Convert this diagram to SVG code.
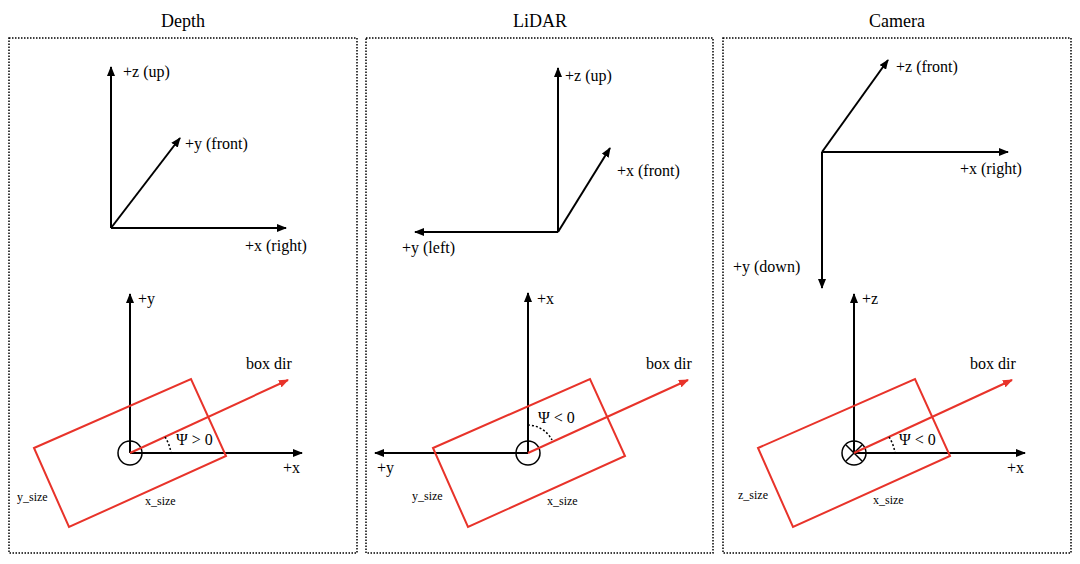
<svg xmlns="http://www.w3.org/2000/svg" width="1080" height="564" viewBox="0 0 1080 564">
<style>
text{font-family:"Liberation Serif","Times New Roman",serif;fill:#000}
.t{font-size:18px}.l{font-size:16px}.s{font-size:12px}
.ax{stroke:#000;stroke-width:2;fill:none;marker-end:url(#ab)}
.rd{stroke:#e8332a;stroke-width:2;fill:none}
.dir{stroke:#e8332a;stroke-width:2;marker-end:url(#ar)}
.fr{fill:none;stroke:#000;stroke-width:1.5;stroke-dasharray:1.5 1.5}
.dt{fill:none;stroke:#000;stroke-width:1.5;stroke-dasharray:2 2}
</style>
<defs>
<marker id="ab" markerWidth="10" markerHeight="8" refX="9" refY="4" orient="auto" markerUnits="userSpaceOnUse"><path d="M0,0L10,4L0,8z" fill="#000"/></marker>
<marker id="ar" markerWidth="10" markerHeight="8" refX="9" refY="4" orient="auto" markerUnits="userSpaceOnUse"><path d="M0,0L10,4L0,8z" fill="#e8332a"/></marker>
</defs>
<rect width="1080" height="564" fill="#fff"/>
<g id="depth">
<text class="t" x="183" y="27" text-anchor="middle">Depth</text>
<rect class="fr" x="9" y="38" width="348" height="515"/>
<line class="ax" x1="111" y1="228" x2="111" y2="67"/>
<line class="ax" x1="111" y1="228" x2="180" y2="138"/>
<line class="ax" x1="111" y1="228" x2="286" y2="228"/>
<text class="l" x="123" y="77">+z (up)</text>
<text class="l" x="185" y="149">+y (front)</text>
<text class="l" x="245" y="251">+x (right)</text>
<line class="ax" x1="130" y1="453" x2="130" y2="294"/>
<line class="ax" x1="130" y1="453" x2="302" y2="453"/>
<text class="l" x="138" y="304">+y</text>
<text class="l" x="283" y="473">+x</text>
<circle cx="130" cy="453" r="12" fill="none" stroke="#000" stroke-width="1.5"/>
<polygon class="rd" points="34,448 191,379 226,456 69,527"/>
<line class="dir" x1="130" y1="453" x2="288" y2="380"/>
<path class="dt" d="M165,437 A40,40 0 0 1 171,453"/>
<text class="l" x="176" y="445">Ψ &gt; 0</text>
<text class="l" x="246" y="369">box dir</text>
<text class="s" x="17" y="501">y_size</text>
<text class="s" x="145" y="505">x_size</text>
</g>
<g id="lidar">
<text class="t" x="540" y="27" text-anchor="middle">LiDAR</text>
<rect class="fr" x="366" y="38" width="347" height="515"/>
<line class="ax" x1="558" y1="232" x2="558" y2="68"/>
<line class="ax" x1="558" y1="232" x2="610" y2="148"/>
<line class="ax" x1="558" y1="232" x2="415" y2="232"/>
<text class="l" x="565" y="81">+z (up)</text>
<text class="l" x="617" y="176">+x (front)</text>
<text class="l" x="402" y="253">+y (left)</text>
<line class="ax" x1="528" y1="453" x2="528" y2="293"/>
<line class="ax" x1="528" y1="453" x2="375" y2="453"/>
<text class="l" x="537" y="304">+x</text>
<text class="l" x="377" y="473">+y</text>
<circle cx="528" cy="453" r="12" fill="none" stroke="#000" stroke-width="1.5"/>
<polygon class="rd" points="433,448 590,379 625,456 468,527"/>
<line class="dir" x1="528" y1="453" x2="688" y2="380"/>
<path class="dt" d="M528,425 A28,28 0 0 1 552,440"/>
<text class="l" x="538" y="423">Ψ &lt; 0</text>
<text class="l" x="646" y="369">box dir</text>
<text class="s" x="412" y="500">y_size</text>
<text class="s" x="547" y="505">x_size</text>
</g>
<g id="camera">
<text class="t" x="897" y="27" text-anchor="middle">Camera</text>
<rect class="fr" x="723" y="38" width="348" height="515"/>
<line class="ax" x1="822" y1="152" x2="888" y2="60"/>
<line class="ax" x1="822" y1="152" x2="1008" y2="152"/>
<line class="ax" x1="822" y1="152" x2="822" y2="288"/>
<text class="l" x="896" y="72">+z (front)</text>
<text class="l" x="960" y="174">+x (right)</text>
<text class="l" x="733" y="272">+y (down)</text>
<line class="ax" x1="854" y1="453" x2="854" y2="294"/>
<line class="ax" x1="854" y1="453" x2="1025" y2="453"/>
<text class="l" x="862" y="304">+z</text>
<text class="l" x="1007" y="473">+x</text>
<circle cx="854" cy="453" r="12" fill="none" stroke="#000" stroke-width="1.5"/>
<path d="M846,445L862,461M862,445L846,461" stroke="#000" stroke-width="1.5"/>
<polygon class="rd" points="758,448 915,379 950,456 793,527"/>
<line class="dir" x1="854" y1="453" x2="1012" y2="380"/>
<path class="dt" d="M889,437 A40,40 0 0 1 895,453"/>
<text class="l" x="899" y="445">Ψ &lt; 0</text>
<text class="l" x="970" y="369">box dir</text>
<text class="s" x="738" y="499">z_size</text>
<text class="s" x="873" y="504">x_size</text>
</g>
</svg>
